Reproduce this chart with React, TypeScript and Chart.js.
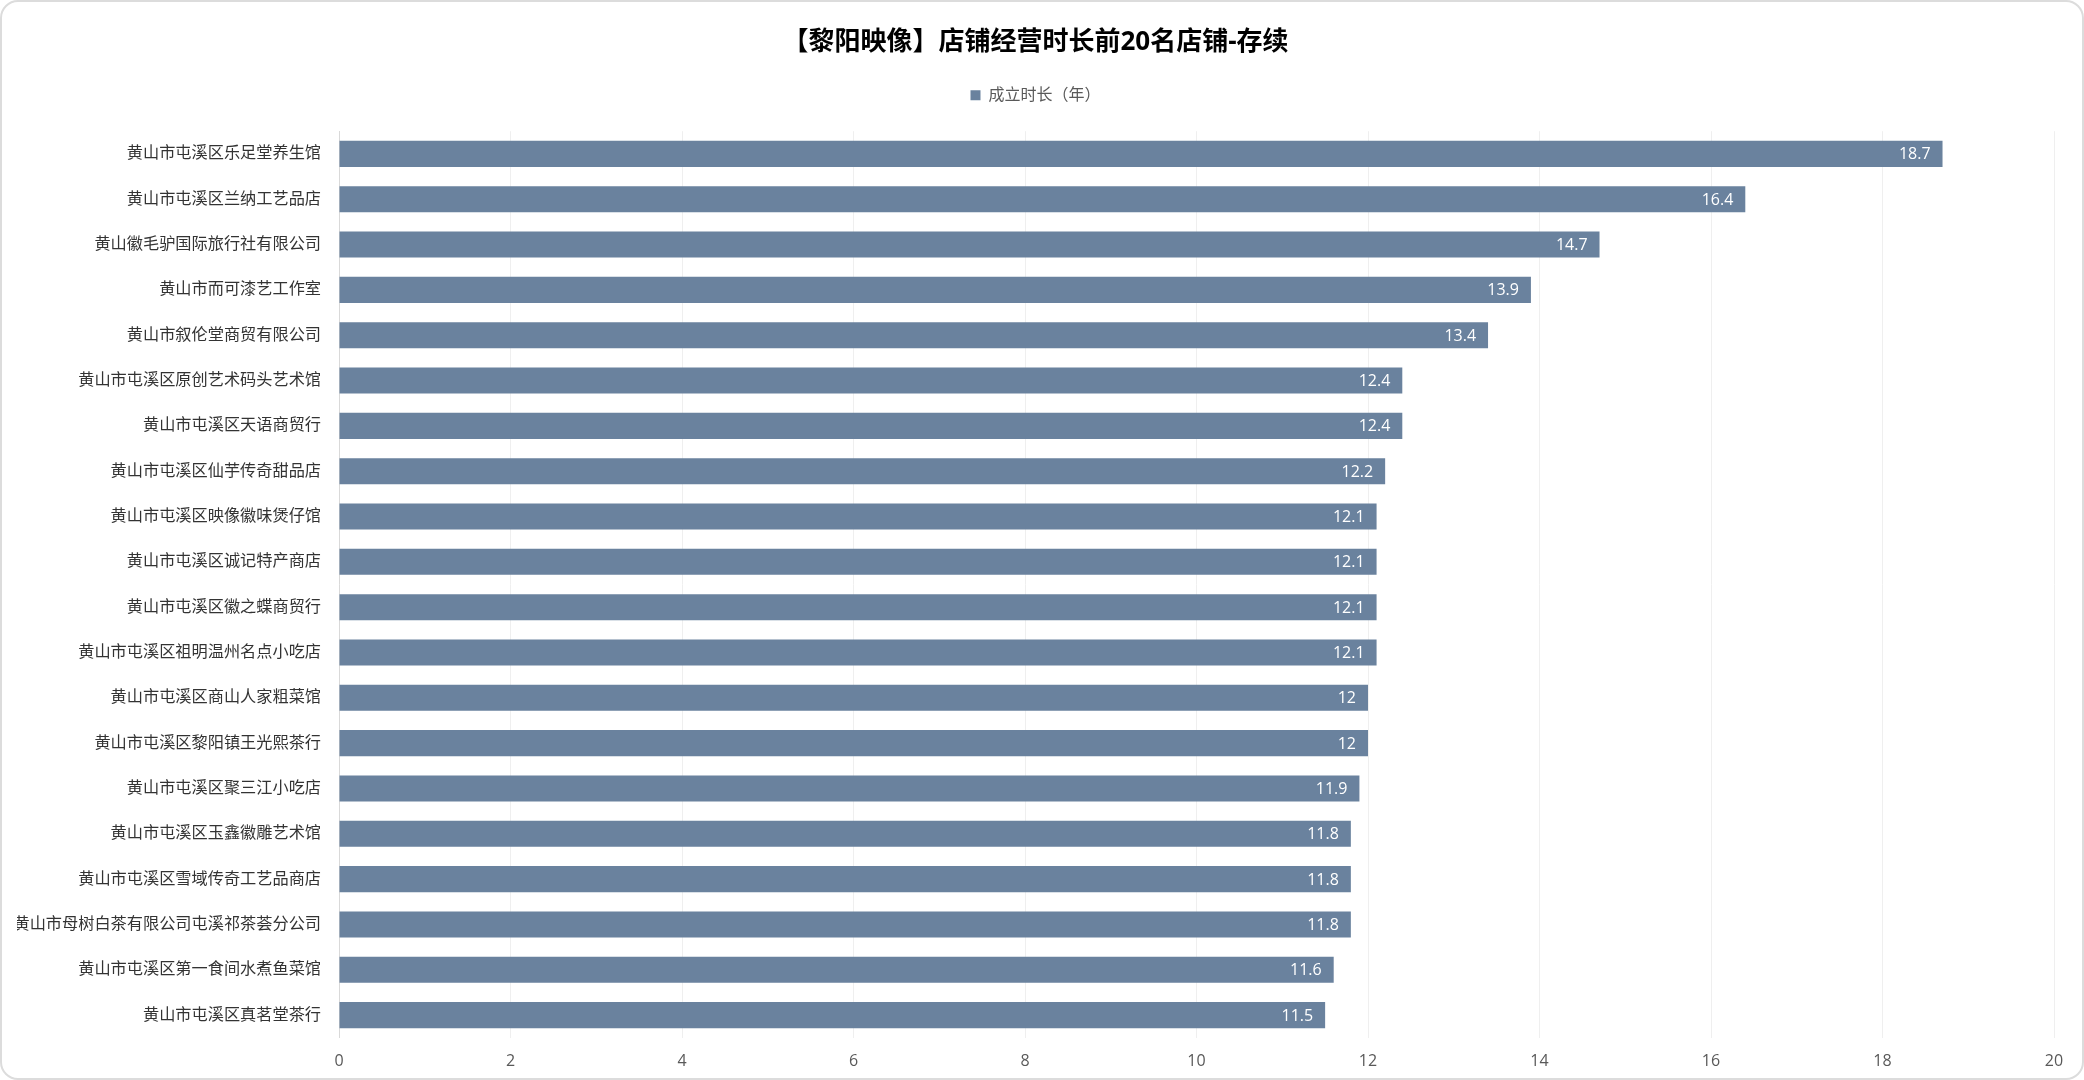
import React, { useEffect, useRef } from "react";
import { Chart, registerables } from "chart.js";

Chart.register(...registerables);

const TITLE = "【黎阳映像】店铺经营时长前20名店铺-存续";
const SERIES_NAME = "成立时长（年）";

const categories: string[] = [
  "黄山市屯溪区乐足堂养生馆",
  "黄山市屯溪区兰纳工艺品店",
  "黄山徽毛驴国际旅行社有限公司",
  "黄山市而可漆艺工作室",
  "黄山市叙伦堂商贸有限公司",
  "黄山市屯溪区原创艺术码头艺术馆",
  "黄山市屯溪区天语商贸行",
  "黄山市屯溪区仙芋传奇甜品店",
  "黄山市屯溪区映像徽味煲仔馆",
  "黄山市屯溪区诚记特产商店",
  "黄山市屯溪区徽之蝶商贸行",
  "黄山市屯溪区祖明温州名点小吃店",
  "黄山市屯溪区商山人家粗菜馆",
  "黄山市屯溪区黎阳镇王光熙茶行",
  "黄山市屯溪区聚三江小吃店",
  "黄山市屯溪区玉鑫徽雕艺术馆",
  "黄山市屯溪区雪域传奇工艺品商店",
  "黄山市母树白茶有限公司屯溪祁茶荟分公司",
  "黄山市屯溪区第一食间水煮鱼菜馆",
  "黄山市屯溪区真茗堂茶行",
];

const years: number[] = [
  18.7, 16.4, 14.7, 13.9, 13.4, 12.4, 12.4, 12.2, 12.1, 12.1,
  12.1, 12.1, 12, 12, 11.9, 11.8, 11.8, 11.8, 11.6, 11.5,
];

const xMin = 0;
const xMax = 20;
const xStep = 2;

const FONT = "'Open Sans', 'Noto Sans CJK SC', sans-serif";
const BAR_COLOR = "#6A829E";

const valueLabelPlugin = {
  id: "valueLabels",
  afterDatasetsDraw(chart: any) {
    const { ctx } = chart;
    const meta = chart.getDatasetMeta(0);
    const data = chart.data.datasets[0].data as number[];
    ctx.save();
    ctx.font = `16px ${FONT}`;
    ctx.fillStyle = "#ffffff";
    ctx.textAlign = "right";
    ctx.textBaseline = "middle";
    meta.data.forEach((el: any, i: number) => {
      ctx.fillText(String(data[i]), el.x - 12, el.y + 1);
    });
    ctx.restore();
  },
};

export default function App() {
  const canvasRef = useRef<HTMLCanvasElement | null>(null);

  useEffect(() => {
    if (!canvasRef.current) return;
    const chart = new Chart(canvasRef.current, {
      type: "bar",
      data: {
        labels: categories,
        datasets: [
          {
            label: SERIES_NAME,
            data: years,
            backgroundColor: BAR_COLOR,
            borderWidth: 0,
            categoryPercentage: 1,
            barPercentage: 0.575,
          },
        ],
      },
      options: {
        indexAxis: "y",
        animation: false,
        responsive: false,
        maintainAspectRatio: false,
        layout: { padding: { top: 12, left: 17, right: 30, bottom: -5 } },
        plugins: {
          title: {
            display: true,
            text: TITLE,
            color: "#000000",
            font: { family: FONT, size: 26, weight: "bold" },
            padding: { top: 15, bottom: 10 },
          },
          legend: {
            display: true,
            labels: {
              boxWidth: 10,
              boxHeight: 10,
              padding: 19,
              color: "#595959",
              font: { family: FONT, size: 16 },
            },
          },
          tooltip: { enabled: false },
        },
        scales: {
          x: {
            type: "linear",
            min: xMin,
            max: xMax,
            ticks: {
              stepSize: xStep,
              padding: 14,
              color: "#595959",
              font: { family: FONT, size: 16 },
            },
            grid: { color: "#efefef", drawTicks: false },
            border: { display: false },
          },
          xTopSpacer: {
            type: "linear",
            position: "top",
            min: xMin,
            max: xMax,
            display: true,
            ticks: { display: false },
            grid: { display: false, drawTicks: false },
            border: { display: false },
            afterFit: (scale: any) => {
              scale.height = 18;
            },
          },
          y: {
            ticks: {
              padding: 18,
              color: "#333333",
              font: { family: FONT, size: 16.2 },
              autoSkip: false,
            },
            grid: { display: false, drawTicks: false },
            border: { display: true, color: "#d9d9d9" },
            afterFit: (scale: any) => {
              scale.width = 322;
            },
          },
        },
      },
      plugins: [valueLabelPlugin],
    });
    return () => chart.destroy();
  }, []);

  return (
    <div
      style={{
        position: "fixed",
        left: 0,
        top: 0,
        width: 2084,
        height: 1080,
        background: "#ffffff",
      }}
    >
      <canvas ref={canvasRef} width={2084} height={1080} style={{ display: "block" }} />
      <div
        style={{
          position: "absolute",
          left: 0,
          top: 0,
          width: 2084,
          height: 1080,
          boxSizing: "border-box",
          border: "2px solid #dcdcdc",
          borderRadius: 18,
          pointerEvents: "none",
        }}
      />
    </div>
  );
}
